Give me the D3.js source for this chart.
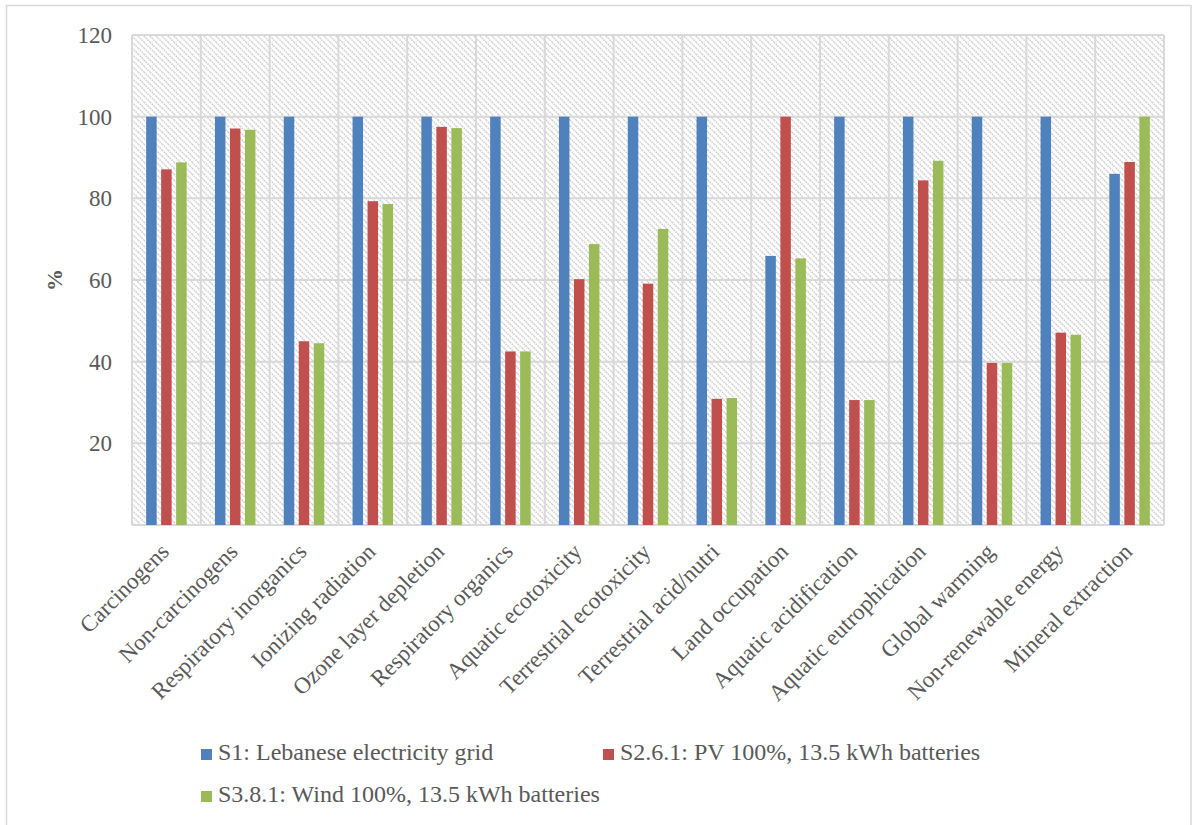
<!DOCTYPE html>
<html>
<head>
<meta charset="utf-8">
<script src="https://cdn.jsdelivr.net/npm/d3@7"></script>
<style>
  html, body { margin: 0; padding: 0; background: #fff; }
  svg { display: block; }
  svg text { font-family: "Liberation Serif", "Times New Roman", serif !important; fill: #595959; }
</style>
</head>
<body>
<svg id="chart" width="1193" height="825"></svg>
<script>
// Impact categories along the x axis
const categories = [
  "Carcinogens", "Non-carcinogens", "Respiratory inorganics", "Ionizing radiation",
  "Ozone layer depletion", "Respiratory organics", "Aquatic ecotoxicity",
  "Terrestrial ecotoxicity", "Terrestrial acid/nutri", "Land occupation",
  "Aquatic acidification", "Aquatic eutrophication", "Global warming",
  "Non-renewable energy", "Mineral extraction"
];

// Scenario names (legend) and their relative scores, % of the highest scenario
const seriesNames = [
  "S1: Lebanese electricity grid",
  "S2.6.1: PV 100%, 13.5 kWh batteries",
  "S3.8.1: Wind 100%, 13.5 kWh batteries"
];
const s1Values  = [100, 100, 100, 100, 100, 100, 100, 100, 100, 65.9, 100, 100, 100, 100, 86.0];
const s261Values = [87.1, 97.1, 45.0, 79.3, 97.5, 42.5, 60.2, 59.1, 30.9, 100, 30.6, 84.4, 39.7, 47.1, 88.9];
const s381Values = [88.8, 96.8, 44.5, 78.6, 97.2, 42.5, 68.8, 72.5, 31.1, 65.3, 30.6, 89.2, 39.7, 46.6, 100];
const seriesColors = ["#4F81BD", "#C0504D", "#9BBB59"];

const yTicks = [20, 40, 60, 80, 100, 120];

const seriesValues = [s1Values, s261Values, s381Values];
const rows = categories.map((c, i) => ({
  category: c,
  values: seriesNames.map((s, k) => ({ key: s, value: seriesValues[k][i] }))
}));

const serif = '"Liberation Serif", "Times New Roman", serif';
const svg = d3.select("#chart");
const plot = { left: 132, right: 1164, top: 35, bottom: 525 };
const gridColor = "#d9d9d9";

// Outer chart frame
svg.append("rect")
  .attr("x", 6.5).attr("y", 5.5)
  .attr("width", 1184.5).attr("height", 830)
  .attr("fill", "none").attr("stroke", gridColor).attr("stroke-width", 1.5);

// Diagonal hatch fill of the plot area
const defs = svg.append("defs");
const pat = defs.append("pattern")
  .attr("id", "hatch")
  .attr("patternUnits", "userSpaceOnUse")
  .attr("width", 6).attr("height", 6);
pat.append("path")
  .attr("d", "M0,0 L6,6 M-1,5 L1,7 M5,-1 L7,1")
  .attr("stroke", "#cdcdcd").attr("stroke-width", 1.4)
  .attr("stroke-dasharray", "1.6,0.9");

const x0 = d3.scaleBand().domain(categories).range([plot.left, plot.right]).padding(0);
const groupWidth = 45;
const x1 = d3.scaleBand().domain(seriesNames).range([0, groupWidth])
  .paddingInner(0.3).paddingOuter(0.15);
const y = d3.scaleLinear().domain([0, 120]).range([plot.bottom, plot.top]);

svg.append("rect")
  .attr("x", plot.left).attr("y", plot.top)
  .attr("width", plot.right - plot.left).attr("height", plot.bottom - plot.top)
  .attr("fill", "url(#hatch)");

// Horizontal gridlines
svg.append("g")
  .selectAll("line")
  .data(yTicks)
  .join("line")
  .attr("x1", plot.left).attr("x2", plot.right)
  .attr("y1", d => y(d)).attr("y2", d => y(d))
  .attr("stroke", gridColor).attr("stroke-width", 2);

// Vertical category separators
svg.append("g")
  .selectAll("line")
  .data(categories.concat(["__end"]))
  .join("line")
  .attr("x1", (d, i) => i < categories.length ? x0(d) : plot.right)
  .attr("x2", (d, i) => i < categories.length ? x0(d) : plot.right)
  .attr("y1", plot.top).attr("y2", plot.bottom)
  .attr("stroke", gridColor).attr("stroke-width", 2);

// Bottom axis line
svg.append("line")
  .attr("x1", plot.left).attr("x2", plot.right)
  .attr("y1", plot.bottom).attr("y2", plot.bottom)
  .attr("stroke", gridColor).attr("stroke-width", 2);

// Bars
const groups = svg.append("g").selectAll("g")
  .data(rows)
  .join("g")
  .attr("transform", d => `translate(${x0(d.category) + (x0.bandwidth() - groupWidth) / 2},0)`);

groups.selectAll("rect")
  .data(d => d.values)
  .join("rect")
  .attr("x", d => x1(d.key))
  .attr("width", x1.bandwidth())
  .attr("y", d => y(d.value))
  .attr("height", d => y(0) - y(d.value))
  .attr("fill", (d, i) => seriesColors[i]);

// Y axis tick labels
const yAxis = d3.axisLeft(y).tickValues(yTicks).tickSize(0).tickPadding(20);
const yg = svg.append("g").attr("transform", `translate(${plot.left},0)`).call(yAxis)
  .attr("font-family", serif);
yg.select(".domain").remove();
yg.selectAll("text")
  .attr("font-family", serif)
  .style("font-size", "23px")
  .attr("fill", "#595959");

// Y axis title
svg.append("text")
  .attr("transform", `translate(62,${y(60)}) rotate(-90)`)
  .attr("text-anchor", "middle")
  .attr("font-family", serif)
  .style("font-size", "22px")
  .style("font-weight", "bold")
  .text("%");

// Category labels, rotated
svg.append("g")
  .selectAll("text")
  .data(categories)
  .join("text")
  .attr("transform", d => `translate(${x0(d) + x0.bandwidth() / 2 + 4},${plot.bottom + 28}) rotate(-45)`)
  .attr("text-anchor", "end")
  .attr("font-family", serif)
  .style("font-size", "23px")
  .text(d => d);

// Legend
const legendItems = [
  { x: 201, y: 760 },
  { x: 603, y: 760 },
  { x: 201, y: 802 }
];
const legend = svg.append("g").selectAll("g")
  .data(seriesNames)
  .join("g")
  .attr("transform", (d, i) => `translate(${legendItems[i].x},${legendItems[i].y})`);
legend.append("rect")
  .attr("x", 0).attr("y", -11)
  .attr("width", 11).attr("height", 11)
  .attr("fill", (d, i) => seriesColors[i]);
legend.append("text")
  .attr("x", 17).attr("y", 0)
  .attr("font-family", serif)
  .style("font-size", "24px")
  .text(d => d);
</script>
</body>
</html>
